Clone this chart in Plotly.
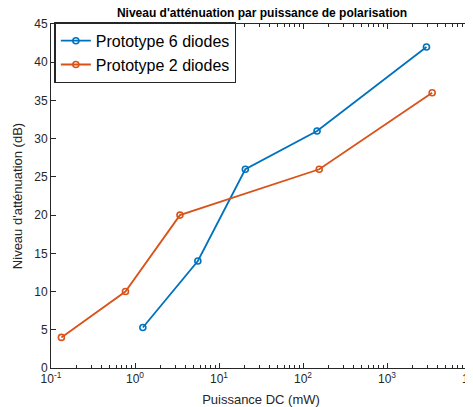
import plotly.graph_objects as go

# Data
power_6 = [1.24, 5.6, 20.6, 147, 2950]
atten_6 = [5.3, 14, 26, 31, 42]
power_2 = [0.133, 0.77, 3.43, 156, 3450]
atten_2 = [4, 10, 20, 26, 36]

name_6 = "Prototype 6 diodes"
name_2 = "Prototype 2 diodes"

x_tickvals = [0.1, 1, 10, 100, 1000, 10000]
x_ticktext = ["10<sup>-1</sup>", "10<sup>0</sup>", "10<sup>1</sup>", "10<sup>2</sup>", "10<sup>3</sup>", "10<sup>4</sup>"]
x_minor = [m * d for d in [0.1, 1, 10, 100, 1000] for m in range(2, 10)]
y_tickvals = list(range(0, 50, 5))

title = "Niveau d'atténuation par puissance de polarisation"
xlabel = "Puissance DC (mW)"
ylabel = "Niveau d'atténuation (dB)"

AX = "#262626"
FONT = "Liberation Sans, Arial, Helvetica, sans-serif"

fig = go.Figure()
fig.add_trace(go.Scatter(
    x=power_6, y=atten_6, name=name_6, mode="lines+markers",
    line=dict(color="#0072BD", width=1.8),
    marker=dict(symbol="circle-open", size=6, line=dict(width=1.6, color="#0072BD")),
))
fig.add_trace(go.Scatter(
    x=power_2, y=atten_2, name=name_2, mode="lines+markers",
    line=dict(color="#D95319", width=1.8),
    marker=dict(symbol="circle-open", size=6, line=dict(width=1.6, color="#D95319")),
))

fig.update_layout(
    width=473, height=407,
    margin=dict(l=43, r=10, t=16, b=47, autoexpand=False),
    paper_bgcolor="white", plot_bgcolor="white",
    font=dict(family=FONT, color=AX, size=12),
    title=dict(text="<b>" + title + "</b>", x=0.537, xanchor="center", y=0.988, yanchor="middle",
               font=dict(size=12, color="#000000")),
    legend=dict(x=0.008, y=1.005, xanchor="left", yanchor="top",
                bordercolor=AX, borderwidth=1.5, bgcolor="white",
                font=dict(size=16, color="#000000"), itemwidth=30,
                tracegroupgap=0),
    showlegend=True,
)

fig.update_xaxes(
    type="log", range=[-1, 4],
    tickvals=x_tickvals, ticktext=x_ticktext,
    ticks="inside", ticklen=5, tickcolor=AX, tickwidth=1,
    minor=dict(tickvals=x_minor, ticks="inside", ticklen=3, tickcolor=AX, showgrid=False),
    showline=True, linecolor=AX, linewidth=1, mirror="ticks",
    showgrid=False, zeroline=False, automargin=False,
    ticklabeloverflow="allow",
    tickfont=dict(size=12, color=AX),
    title=dict(text=xlabel, font=dict(size=13, color=AX), standoff=9),
)
fig.update_yaxes(
    range=[0, 45],
    tickvals=y_tickvals,
    ticks="inside", ticklen=5, tickcolor=AX, tickwidth=1,
    showline=True, linecolor=AX, linewidth=1, mirror="ticks",
    showgrid=False, zeroline=False, automargin=False,
    tickfont=dict(size=12, color=AX),
    title=dict(text=ylabel, font=dict(size=13, color=AX), standoff=8),
)

fig.write_html("out.html")
